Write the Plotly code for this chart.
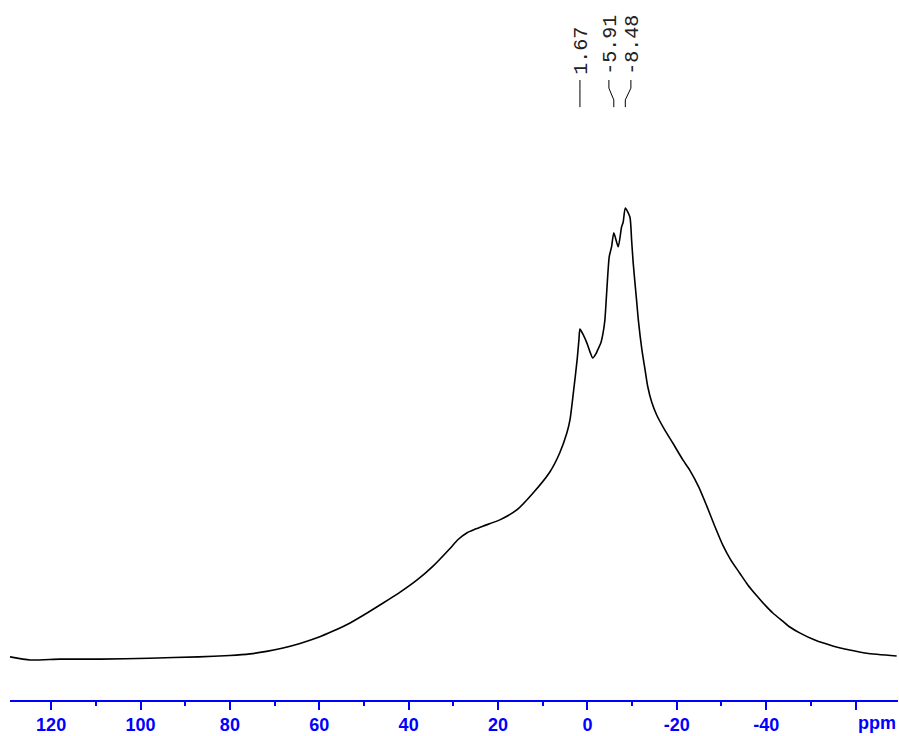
import plotly.graph_objects as go

# Chemical shift (ppm) and intensity (a.u.) of the solid-state spectrum
shift_ppm = [
    129.2, 124.7, 118.0, 109.0, 98.0, 87.0, 80.0, 75.5, 71.8, 68.1, 64.3,
    60.5, 56.9, 53.1, 49.3, 45.7, 41.9, 38.1, 34.6, 30.8, 29.0, 27.0, 25.2,
    23.4, 19.6, 15.8, 12.2, 8.4, 6.2, 4.6, 3.9, 3.2, 2.3, 1.9, 1.67, 1.0,
    0.1, -0.6, -1.2, -1.9, -2.3, -3.0, -3.5, -3.91, -4.88, -5.41, -5.91,
    -6.89, -7.65, -8.01, -8.48, -9.51, -9.89, -10.25, -11.0, -11.4, -12.2,
    -12.9, -13.5, -14.4, -15.5, -17.3, -19.1, -21.4, -22.9, -24.9, -26.7,
    -28.5, -30.3, -32.1, -34.1, -35.9, -37.9, -39.7, -41.5, -43.7, -45.3,
    -47.5, -50.9, -54.9, -58.7, -62.5, -69.2,
]
intensity = [
    0.7, 0.0, 0.2, 0.2, 0.4, 0.7, 1.0, 1.35, 1.9, 2.65, 3.65,
    4.9, 6.4, 8.2, 10.4, 12.6, 15.0, 17.7, 20.7, 24.6, 26.6, 28.1, 28.9,
    29.6, 31.0, 33.2, 36.9, 41.6, 45.8, 50.2, 53.1, 58.6, 66.4, 70.8, 73.2, 72.1,
    70.1, 68.1, 66.8, 67.7, 68.6, 70.1, 72.3, 75.2, 89.2, 91.4, 94.5,
    91.4, 95.8, 96.9, 100.0, 98.0, 92.9, 87.8, 79.6, 75.2, 68.6,
    64.2, 60.5, 57.0, 54.2, 50.9, 48.0, 44.2, 42.0, 38.3, 34.1,
    29.6, 25.4, 22.1, 19.2, 16.6, 14.2, 12.2, 10.4, 8.6, 7.3,
    6.0, 4.4, 3.1, 2.2, 1.5, 0.9,
]

# Picked peaks and the spread positions of their labels
peak_ppm = [1.67, -5.91, -8.48]
peak_labels = ["1.67", "-5.91", "-8.48"]
label_ppm = [1.67, -4.81, -9.73]

# Axis ticks
tick_vals = [120, 100, 80, 60, 40, 20, 0, -20, -40, -60]
tick_text = ["120", "100", "80", "60", "40", "20", "0", "-20", "-40", ""]
minor_vals = [130, 110, 90, 70, 50, 30, 10, -10, -30, -50, -70]

BLUE = "#0000FF"

fig = go.Figure()
fig.add_trace(go.Scatter(
    x=shift_ppm, y=intensity, mode="lines",
    line=dict(color="black", width=1.6, shape="spline", smoothing=0.6),
    hoverinfo="skip", showlegend=False,
))

# Peak labels with their connector lines
y_text = 129.0
y_top, y_bend1, y_bend2, y_bottom = 128.3, 126.5, 123.9, 122.3
for p, lp, txt in zip(peak_ppm, label_ppm, peak_labels):
    fig.add_shape(
        type="path", xref="x", yref="y",
        path=f"M {lp},{y_top} L {lp},{y_bend1} L {p},{y_bend2} L {p},{y_bottom}",
        line=dict(color="black", width=1),
    )
    fig.add_annotation(
        x=lp, y=y_text, xref="x", yref="y", text=txt, textangle=-90,
        showarrow=False, xanchor="center", yanchor="bottom", xshift=2,
        font=dict(family="Liberation Mono", size=20, color="#222222"),
    )

fig.add_annotation(
    x=1, y=-0.033, xref="paper", yref="paper", text="<b>ppm</b>",
    showarrow=False, xanchor="right", yanchor="middle",
    font=dict(family="Liberation Sans", size=18, color=BLUE),
)

fig.update_layout(
    width=899, height=736,
    margin=dict(l=10, r=1, t=0, b=36),
    paper_bgcolor="white", plot_bgcolor="white",
    xaxis=dict(
        range=[129.2, -69.5], showgrid=False, zeroline=False,
        showline=True, linecolor=BLUE, linewidth=1.5,
        ticks="outside", ticklen=8, tickwidth=1.5, tickcolor=BLUE,
        tickmode="array", tickvals=tick_vals, ticktext=tick_text,
        tickfont=dict(family="Liberation Sans", size=18, color=BLUE, weight="bold"),
        minor=dict(tickmode="array", tickvals=minor_vals, ticks="outside",
                   ticklen=4, tickwidth=1.5, tickcolor=BLUE, showgrid=False),
    ),
    yaxis=dict(range=[-8.85, 146.0], visible=False, showgrid=False, zeroline=False),
)

fig.write_html("out.html")
